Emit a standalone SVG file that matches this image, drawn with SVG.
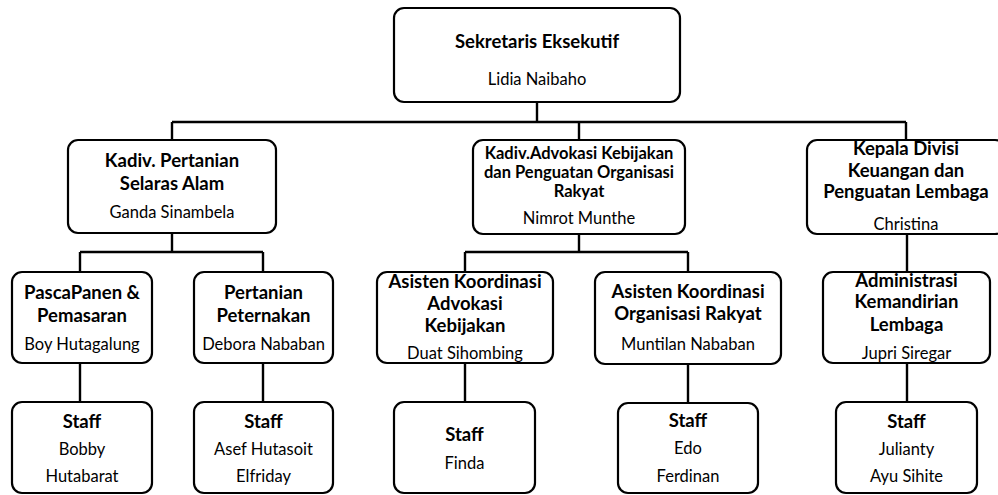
<svg xmlns="http://www.w3.org/2000/svg" width="998" height="495" viewBox="0 0 998 495">
<style>
.box{fill:#fff;stroke:#000;stroke-width:2.2}
.ln{fill:none;stroke:#000;stroke-width:2.4}
text{font-family:Lato,"Open Sans","Liberation Sans",sans-serif;fill:#000;text-anchor:middle}
.b{font-weight:bold;font-size:18.5px}
.bs{font-weight:bold;font-size:16.5px}
.r{font-size:16.5px}
</style>
<rect width="998" height="495" fill="#fff"/>
<g id="connectors">
<path class="ln" d="M537 102V122M172 122H906M172 122V140M579 122V140M906 122V140"/>
<path class="ln" d="M172 233V252M80 252H263M80 252V272M263 252V272"/>
<path class="ln" d="M579 234V252M465 252H688M465 252V272M688 252V272"/>
<path class="ln" d="M907 234V272"/>
<path class="ln" d="M80 363V402M263 363V402M465 363V402M688 364V402M907 363V402"/>
</g>
<g id="sekretaris">
<rect class="box" x="394" y="8" width="286" height="94" rx="10"/>
<text class="b" x="537" y="48">Sekretaris Eksekutif</text>
<text class="r" x="537" y="85">Lidia Naibaho</text>
</g>
<g id="kadiv-pertanian">
<rect class="box" x="68" y="140" width="208" height="93" rx="10"/>
<text class="b" x="172" y="167">Kadiv. Pertanian</text>
<text class="b" x="172" y="190">Selaras Alam</text>
<text class="r" x="172" y="218">Ganda Sinambela</text>
</g>
<g id="kadiv-advokasi">
<rect class="box" x="473" y="140" width="212" height="94" rx="10"/>
<text class="bs" x="579" y="159">Kadiv.Advokasi Kebijakan</text>
<text class="bs" x="579" y="178">dan Penguatan Organisasi</text>
<text class="bs" x="579" y="197">Rakyat</text>
<text class="r" x="579" y="224">Nimrot Munthe</text>
</g>
<g id="kepala-divisi">
<rect class="box" x="807" y="140" width="198" height="94" rx="10"/>
<text class="b" x="906" y="155">Kepala Divisi</text>
<text class="b" x="906" y="177">Keuangan dan</text>
<text class="b" x="906" y="198">Penguatan Lembaga</text>
<text class="r" x="906" y="230">Christina</text>
</g>
<g id="pascapanen">
<rect class="box" x="12" y="272" width="140" height="91" rx="10"/>
<text class="b" x="82" y="299">PascaPanen &amp;</text>
<text class="b" x="82" y="322">Pemasaran</text>
<text class="r" x="82" y="350">Boy Hutagalung</text>
</g>
<g id="pertanian-peternakan">
<rect class="box" x="194" y="272" width="139" height="91" rx="10"/>
<text class="b" x="263.5" y="299">Pertanian</text>
<text class="b" x="263.5" y="322">Peternakan</text>
<text class="r" x="263.5" y="350">Debora Nababan</text>
</g>
<g id="asisten-advokasi">
<rect class="box" x="377" y="272" width="176" height="91" rx="10"/>
<text class="b" x="465" y="288">Asisten Koordinasi</text>
<text class="b" x="465" y="310">Advokasi</text>
<text class="b" x="465" y="332">Kebijakan</text>
<text class="r" x="465" y="359">Duat Sihombing</text>
</g>
<g id="asisten-organisasi">
<rect class="box" x="595" y="272" width="186" height="92" rx="10"/>
<text class="b" x="688" y="298">Asisten Koordinasi</text>
<text class="b" x="688" y="320">Organisasi Rakyat</text>
<text class="r" x="688" y="350">Muntilan Nababan</text>
</g>
<g id="administrasi">
<rect class="box" x="823" y="272" width="167" height="91" rx="10"/>
<text class="b" x="906.5" y="287">Administrasi</text>
<text class="b" x="906.5" y="308">Kemandirian</text>
<text class="b" x="906.5" y="331">Lembaga</text>
<text class="r" x="906.5" y="359">Jupri Siregar</text>
</g>
<g id="staff-1">
<rect class="box" x="12" y="402" width="140" height="91" rx="10"/>
<text class="b" x="82" y="428">Staff</text>
<text class="r" x="82" y="455">Bobby</text>
<text class="r" x="82" y="482">Hutabarat</text>
</g>
<g id="staff-2">
<rect class="box" x="194" y="402" width="139" height="91" rx="10"/>
<text class="b" x="263.5" y="428">Staff</text>
<text class="r" x="263.5" y="455">Asef Hutasoit</text>
<text class="r" x="263.5" y="482">Elfriday</text>
</g>
<g id="staff-3">
<rect class="box" x="394" y="402" width="141" height="91" rx="10"/>
<text class="b" x="464.5" y="441">Staff</text>
<text class="r" x="464.5" y="469">Finda</text>
</g>
<g id="staff-4">
<rect class="box" x="618" y="403" width="140" height="90" rx="10"/>
<text class="b" x="688" y="427">Staff</text>
<text class="r" x="688" y="454">Edo</text>
<text class="r" x="688" y="482">Ferdinan</text>
</g>
<g id="staff-5">
<rect class="box" x="836" y="402" width="141" height="91" rx="10"/>
<text class="b" x="906.5" y="428">Staff</text>
<text class="r" x="906.5" y="455">Julianty</text>
<text class="r" x="906.5" y="482">Ayu Sihite</text>
</g>
</svg>
